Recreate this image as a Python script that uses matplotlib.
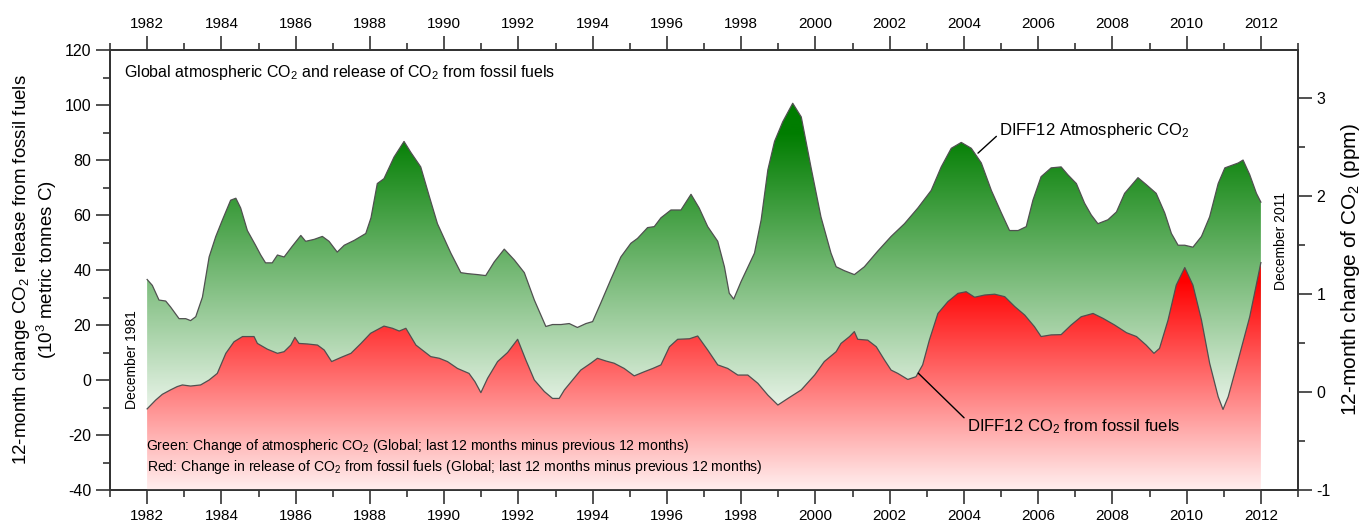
"""
Global atmospheric CO2 and release of CO2 from fossil fuels
(12-month differences, Dec 1981 - Dec 2011)
"""
import numpy as np
import matplotlib.pyplot as plt
from matplotlib.ticker import MultipleLocator

plt.rcParams['font.family'] = ['Liberation Sans', 'DejaVu Sans']
plt.rcParams['mathtext.fontset'] = 'custom'
plt.rcParams['mathtext.rm'] = 'Liberation Sans'
plt.rcParams['mathtext.it'] = 'Liberation Sans:italic'
plt.rcParams['mathtext.bf'] = 'Liberation Sans:bold'
plt.rcParams['axes.unicode_minus'] = False

# DIFF12 atmospheric CO2 (ppm, right axis)
atm_year = [1982.00, 1982.14, 1982.32, 1982.50, 1982.63, 1982.86, 1983.04, 1983.17,
            1983.31, 1983.49, 1983.67, 1983.85, 1984.03, 1984.25, 1984.39, 1984.52,
            1984.70, 1984.92, 1985.06, 1985.19, 1985.37, 1985.51, 1985.69, 1985.91,
            1986.14, 1986.27, 1986.50, 1986.72, 1986.90, 1987.12, 1987.31, 1987.58,
            1987.89, 1988.03, 1988.20, 1988.38, 1988.65, 1988.92, 1989.10, 1989.37,
            1989.60, 1989.82, 1990.18, 1990.45, 1990.63, 1990.90, 1991.12, 1991.35,
            1991.62, 1991.89, 1992.16, 1992.43, 1992.74, 1992.92, 1993.15, 1993.37,
            1993.59, 1993.82, 1994.00, 1994.22, 1994.49, 1994.76, 1995.03, 1995.21,
            1995.48, 1995.66, 1995.84, 1996.11, 1996.38, 1996.65, 1996.87, 1997.10,
            1997.37, 1997.55, 1997.68, 1997.80, 1998.00, 1998.36, 1998.54, 1998.72,
            1998.90, 1999.12, 1999.39, 1999.62, 1999.88, 2000.15, 2000.42, 2000.56,
            2000.78, 2001.05, 2001.32, 2001.68, 2002.04, 2002.40, 2002.76, 2003.12,
            2003.39, 2003.66, 2003.93, 2004.20, 2004.47, 2004.74, 2005.01, 2005.23,
            2005.46, 2005.68, 2005.86, 2006.08, 2006.35, 2006.62, 2006.80, 2007.03,
            2007.25, 2007.43, 2007.61, 2007.88, 2008.11, 2008.33, 2008.69, 2008.91,
            2009.18, 2009.41, 2009.59, 2009.77, 2009.95, 2010.17, 2010.40, 2010.62,
            2010.85, 2011.03, 2011.25, 2011.39, 2011.52, 2011.70, 2011.88, 2012.00]
atm_ppm = [1.15, 1.09, 0.94, 0.93, 0.87, 0.75, 0.75, 0.73,
           0.77, 0.97, 1.38, 1.59, 1.76, 1.96, 1.98, 1.88,
           1.65, 1.50, 1.40, 1.32, 1.32, 1.40, 1.38, 1.49,
           1.60, 1.54, 1.56, 1.59, 1.54, 1.43, 1.50, 1.55,
           1.62, 1.78, 2.13, 2.18, 2.40, 2.56, 2.45, 2.30,
           2.00, 1.72, 1.42, 1.22, 1.21, 1.20, 1.19, 1.33,
           1.46, 1.35, 1.22, 0.94, 0.67, 0.69, 0.69, 0.70,
           0.66, 0.70, 0.72, 0.91, 1.15, 1.38, 1.52, 1.57,
           1.68, 1.69, 1.78, 1.86, 1.86, 2.02, 1.88, 1.69,
           1.54, 1.28, 1.01, 0.95, 1.13, 1.42, 1.76, 2.27,
           2.56, 2.76, 2.95, 2.81, 2.30, 1.79, 1.42, 1.28,
           1.24, 1.20, 1.28, 1.44, 1.59, 1.72, 1.88, 2.06,
           2.30, 2.49, 2.55, 2.49, 2.34, 2.06, 1.83, 1.65,
           1.65, 1.69, 1.96, 2.20, 2.29, 2.30, 2.22, 2.13,
           1.93, 1.81, 1.72, 1.76, 1.84, 2.03, 2.19, 2.12,
           2.03, 1.83, 1.62, 1.50, 1.50, 1.48, 1.59, 1.79,
           2.13, 2.29, 2.32, 2.34, 2.37, 2.22, 2.03, 1.94]

# DIFF12 CO2 from fossil fuels (10^3 metric tonnes C, left axis)
fossil_year = [1982.00, 1982.23, 1982.41, 1982.63, 1982.81, 1982.95, 1983.17, 1983.44,
               1983.67, 1983.89, 1984.12, 1984.34, 1984.57, 1984.88, 1984.97, 1985.24,
               1985.51, 1985.69, 1985.87, 1985.98, 1986.09, 1986.32, 1986.59, 1986.77,
               1986.97, 1987.22, 1987.49, 1987.76, 1988.02, 1988.38, 1988.61, 1988.79,
               1988.97, 1989.24, 1989.64, 1989.87, 1990.09, 1990.36, 1990.67, 1990.83,
               1990.99, 1991.17, 1991.44, 1991.71, 1991.98, 1992.20, 1992.43, 1992.70,
               1992.92, 1993.10, 1993.24, 1993.46, 1993.68, 1993.95, 1994.13, 1994.36,
               1994.58, 1994.85, 1995.12, 1995.39, 1995.62, 1995.84, 1996.07, 1996.29,
               1996.61, 1996.83, 1997.10, 1997.37, 1997.64, 1997.91, 1998.18, 1998.45,
               1998.72, 1998.99, 1999.26, 1999.62, 1999.98, 2000.24, 2000.56, 2000.69,
               2000.92, 2001.05, 2001.14, 2001.41, 2001.64, 2001.86, 2002.04, 2002.22,
               2002.49, 2002.71, 2002.89, 2003.07, 2003.30, 2003.57, 2003.84, 2004.06,
               2004.29, 2004.56, 2004.83, 2005.10, 2005.37, 2005.64, 2005.90, 2006.08,
               2006.35, 2006.62, 2006.89, 2007.16, 2007.48, 2007.75, 2008.06, 2008.38,
               2008.65, 2008.91, 2009.12, 2009.27, 2009.50, 2009.72, 2009.95, 2010.17,
               2010.40, 2010.62, 2010.85, 2010.98, 2011.12, 2011.39, 2011.70, 2012.00]
fossil_diff = [-10.5, -7.3, -5.2, -3.6, -2.4, -1.8, -2.2, -1.8,
               0.0, 2.4, 9.7, 13.9, 15.8, 15.8, 13.3, 11.2,
               9.7, 10.3, 12.7, 15.5, 13.3, 13.1, 12.7, 10.9,
               6.7, 8.2, 9.7, 13.3, 17.0, 19.6, 18.8, 17.8,
               18.8, 12.7, 8.5, 7.9, 6.7, 4.2, 2.4, -0.6,
               -4.6, 0.6, 6.7, 10.0, 14.8, 7.3, 0.0, -4.2,
               -6.7, -6.7, -3.6, 0.0, 3.6, 6.1, 7.9, 6.9,
               6.1, 4.2, 1.5, 3.0, 4.2, 5.5, 12.1, 14.8,
               15.0, 16.0, 10.9, 5.5, 4.2, 1.8, 1.8, -1.2,
               -5.5, -9.1, -6.7, -3.6, 1.8, 6.7, 10.3, 13.3,
               15.8, 17.6, 14.8, 14.5, 12.1, 7.3, 3.6, 2.4,
               0.2, 1.2, 5.5, 14.5, 24.2, 28.5, 31.5, 32.1,
               30.1, 30.9, 31.2, 30.3, 26.7, 23.6, 19.4, 15.8,
               16.4, 16.5, 20.0, 23.0, 24.2, 22.4, 20.0, 17.2,
               15.8, 12.7, 9.7, 11.5, 21.8, 34.5, 40.9, 34.5,
               21.8, 6.1, -6.1, -10.7, -6.1, 7.3, 23.0, 42.7]

LEFT_LIM = (-40, 120)
RIGHT_LIM = (-1, 3.494)
AXIS_COLOR = '#333333'


def ppm_to_left(p):
    """Map ppm values (right axis) onto the left axis scale."""
    p = np.asarray(p)
    scale = (LEFT_LIM[1] - LEFT_LIM[0]) / (RIGHT_LIM[1] - RIGHT_LIM[0])
    return LEFT_LIM[0] + (p - RIGHT_LIM[0]) * scale


def gradient_fill(ax, x, y, rgb_top, v_top, v_bot, zorder):
    """Fill below the curve with a vertical colour -> white gradient."""
    x = np.asarray(x)
    poly = ax.fill_between(x, y, LEFT_LIM[0], facecolor='none',
                           edgecolor='none')
    vals = np.linspace(LEFT_LIM[0], LEFT_LIM[1], 600)
    t = np.clip((vals - v_bot) / (v_top - v_bot), 0, 1)[:, None]
    top = np.array(rgb_top) / 255.0
    img = (1 - t) * np.ones(3) + t * top
    im = ax.imshow(img[:, None, :], extent=[x.min(), x.max(), LEFT_LIM[0], LEFT_LIM[1]],
                   origin='lower', aspect='auto', zorder=zorder,
                   interpolation='bilinear')
    im.set_clip_path(poly.get_paths()[0], transform=ax.transData)
    ax.plot(x, y, color='#505050', lw=0.9, zorder=zorder + 0.5)


fig = plt.figure(figsize=(13.68, 5.31), dpi=100)
ax = fig.add_axes([110 / 1368, 41 / 531, 1188 / 1368, 440 / 531])

atm_left = ppm_to_left(atm_ppm)
gradient_fill(ax, atm_year, atm_left, (0, 125, 0), 90, -20, 2)
gradient_fill(ax, fossil_year, fossil_diff, (255, 0, 0), 36, -45, 3)

ax.set_xlim(1981, 2013)
ax.set_ylim(*LEFT_LIM)

ax.xaxis.set_major_locator(MultipleLocator(2))
ax.xaxis.set_minor_locator(MultipleLocator(1))
ax.yaxis.set_major_locator(MultipleLocator(20))
ax.yaxis.set_minor_locator(MultipleLocator(10))
ax.tick_params(axis='x', which='both', top=True, labeltop=True, direction='out',
               color=AXIS_COLOR, labelsize=11)
ax.tick_params(axis='y', which='both', direction='out', color=AXIS_COLOR,
               labelsize=11.5)
ax.tick_params(which='major', length=10, width=1.2)
ax.tick_params(which='minor', length=5, width=1.2)
for sp in ax.spines.values():
    sp.set_color(AXIS_COLOR)
    sp.set_linewidth(1.3)

ax.set_ylabel('12-month change CO$_2$ release from fossil fuels\n'
              '(10$^3$ metric tonnes C)', fontsize=13.5, linespacing=1.15)

ax2 = ax.twinx()
ax2.set_ylim(*RIGHT_LIM)
ax2.yaxis.set_major_locator(MultipleLocator(1))
ax2.yaxis.set_minor_locator(MultipleLocator(0.5))
ax2.tick_params(axis='y', which='both', direction='out', color=AXIS_COLOR,
                labelsize=11.5)
ax2.tick_params(which='major', length=10, width=1.2)
ax2.tick_params(which='minor', length=5, width=1.2)
for sp in ax2.spines.values():
    sp.set_color(AXIS_COLOR)
    sp.set_linewidth(1.3)
ax2.set_ylabel('12-month change of CO$_2$ (ppm)', fontsize=15, labelpad=6)

ax.text(1981.39, 112, 'Global atmospheric CO$_2$ and release of CO$_2$ from fossil fuels',
        fontsize=11.5, va='center', ha='left', zorder=5)
ax.text(1981.6, 7.5, 'December 1981', rotation=90, fontsize=10,
        ha='center', va='center', zorder=5)
ax.text(2012.55, 50.5, 'December 2011', rotation=90, fontsize=10,
        ha='center', va='center', zorder=5)
ax.text(1981.96, -24, 'Green: Change of atmospheric CO$_2$ (Global; last 12 months '
        'minus previous 12 months)', fontsize=10.1, va='center', ha='left', zorder=5)
ax.text(1982.0, -31.6, 'Red: Change in release of CO$_2$ from fossil fuels (Global; '
        'last 12 months minus previous 12 months)', fontsize=10.1, va='center',
        ha='left', zorder=5)

ax.annotate('DIFF12 Atmospheric CO$_2$', xy=(2004.38, 82.5), xytext=(2004.95, 90.9),
            fontsize=12, va='center', ha='left', zorder=6,
            arrowprops=dict(arrowstyle='-', color='black', lw=1,
                            shrinkA=0, shrinkB=0, relpos=(0, 0.3)))
ax.annotate('DIFF12 CO$_2$ from fossil fuels', xy=(2002.77, 2.5), xytext=(2004.08, -17.1),
            fontsize=12, va='center', ha='left', zorder=6,
            arrowprops=dict(arrowstyle='-', color='black', lw=1,
                            shrinkA=0, shrinkB=0, relpos=(0, 0.85)))

fig.savefig('out.png', dpi=100)
